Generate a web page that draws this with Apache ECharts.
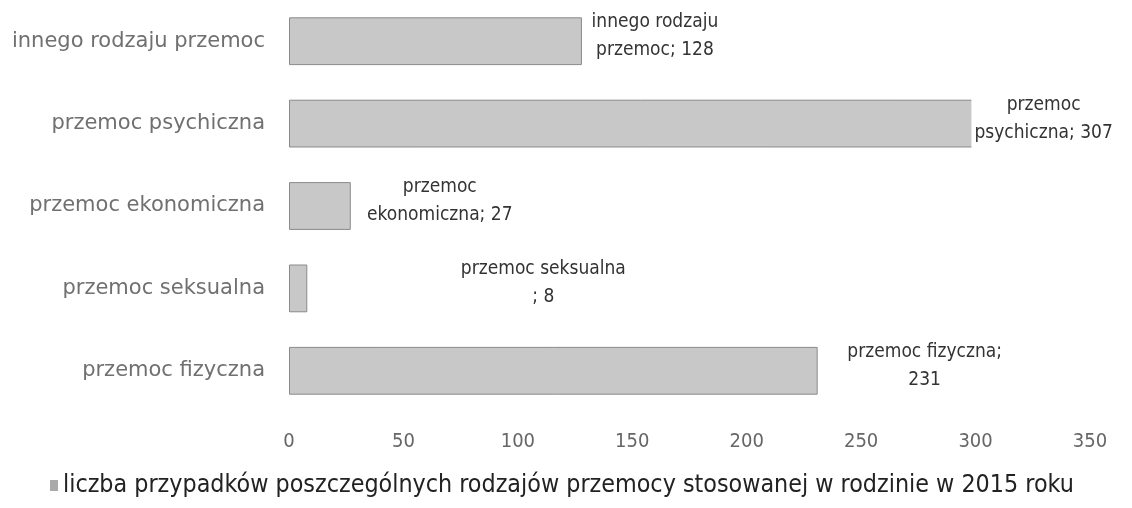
<!DOCTYPE html>
<html><head><meta charset="utf-8">
<script src="https://cdn.jsdelivr.net/npm/echarts@6/dist/echarts.min.js"></script>
<style>html,body{margin:0;padding:0;background:#fff}#c{width:1132px;height:508px}</style>
</head><body><div id="c"></div>
<script>
// Data (bottom-to-top order for category axis)
const categories = ['przemoc fizyczna', 'przemoc seksualna', 'przemoc ekonomiczna', 'przemoc psychiczna', 'innego rodzaju przemoc'];
const values = [231, 8, 27, 307, 128];
const labelTexts = ['przemoc fizyczna;\n231', 'przemoc seksualna\n; 8', 'przemoc\nekonomiczna; 27', 'przemoc\npsychiczna; 307', 'innego rodzaju\nprzemoc; 128'];
const seriesName = 'liczba przypadków poszczególnych rodzajów przemocy stosowanej w rodzinie w 2015 roku';
const xTicks = [0, 50, 100, 150, 200, 250, 300, 350];

const labelShift = [107, 236, 89, 52, 73];
const condensed = "'Liberation Sans Narrow', 'DejaVu Sans Condensed', Roboto, sans-serif";

const chart = echarts.init(document.getElementById('c'), null, {renderer: 'canvas'});
chart.setOption({
  animation: false,
  backgroundColor: '#ffffff',
  grid: {left: 289, right: 42, top: -5, bottom: 96, containLabel: false},
  xAxis: {
    type: 'value', min: xTicks[0], max: xTicks[xTicks.length - 1], interval: 50,
    axisLine: {show: false}, axisTick: {show: false}, splitLine: {show: false},
    axisLabel: {margin: 20, fontSize: 20, color: '#666', fontFamily: condensed}
  },
  yAxis: {
    type: 'category', data: categories,
    axisLine: {show: false}, axisTick: {show: false},
    axisLabel: {margin: 24, fontSize: 21, color: '#707070', fontFamily: "'DejaVu Sans', sans-serif"}
  },
  legend: {
    bottom: 5, left: 45, itemWidth: 8, itemHeight: 11, itemGap: 5,
    icon: 'rect',
    itemStyle: {color: '#aaa', borderWidth: 0},
    textStyle: {fontSize: 24.8, color: '#222', fontFamily: condensed}
  },
  series: [{
    type: 'bar', name: seriesName, barWidth: '58%',
    itemStyle: {color: '#c8c8c8', borderColor: '#8a8a8a', borderWidth: 1},
    data: values.map((v, i) => ({
      value: v,
      label: {
        show: true, position: 'right', distance: 0, align: 'center',
        offset: [labelShift[i], -5],
        formatter: labelTexts[i],
        fontSize: 19, lineHeight: 28, color: '#333', fontFamily: condensed,
        backgroundColor: '#ffffff', padding: [2, 3, 5, 3]
      }
    }))
  }]
});
</script></body></html>
